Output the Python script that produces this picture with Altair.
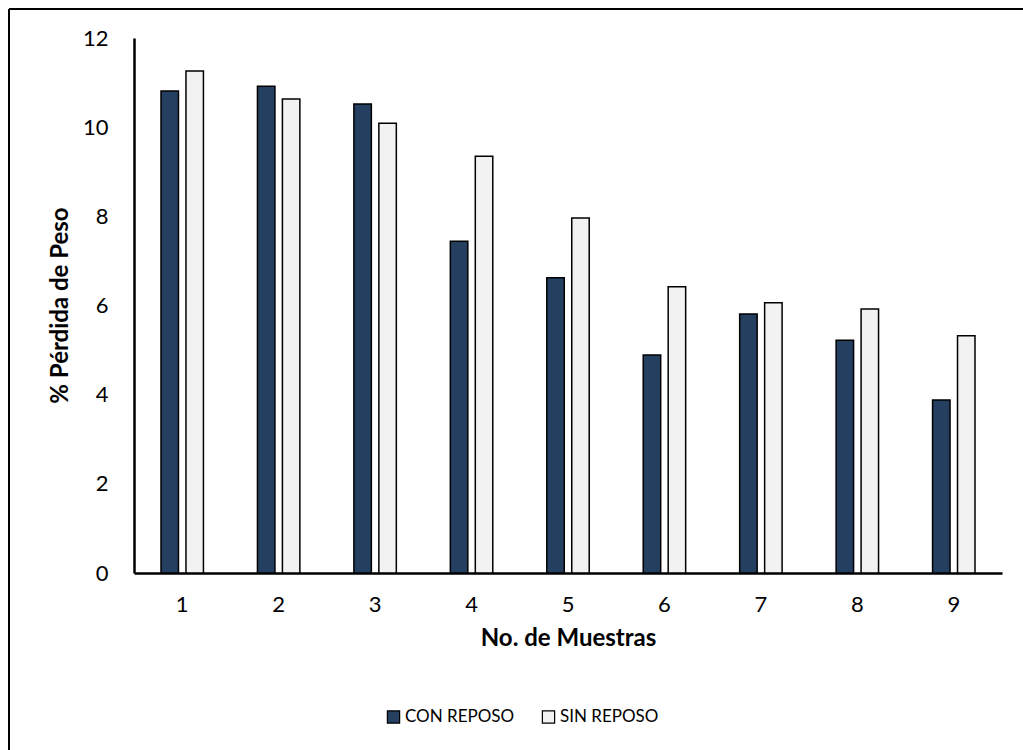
import altair as alt
import pandas as pd

# Weight loss per sample, with and without rest
muestras = ["1", "2", "3", "4", "5", "6", "7", "8", "9"]
con_reposo = [10.81, 10.92, 10.52, 7.44, 6.62, 4.89, 5.81, 5.22, 3.88]
sin_reposo = [11.26, 10.63, 10.09, 9.35, 7.96, 6.42, 6.06, 5.92, 5.32]
series = ["CON REPOSO", "SIN REPOSO"]
colores = ["#243F60", "#F2F2F2"]
y_ticks = [0, 2, 4, 6, 8, 10, 12]

rows = []
for i, m in enumerate(muestras):
    rows.append({"Muestra": m, "Serie": series[0], "Valor": con_reposo[i]})
    rows.append({"Muestra": m, "Serie": series[1], "Valor": sin_reposo[i]})
df = pd.DataFrame(rows)

FONT = "Lato"

bars = alt.Chart(df).mark_bar(stroke="black", strokeWidth=1.5).encode(
    x=alt.X(
        "Muestra:N",
        sort=muestras,
        scale=alt.Scale(paddingInner=0.56, paddingOuter=0.28),
        axis=alt.Axis(
            title="No. de Muestras",
            labelAngle=0,
            ticks=False,
            tickSize=0,
            grid=False,
            domainColor="black",
            domainWidth=2.5,
            labelFont=FONT,
            labelFontSize=22,
            labelColor="black",
            labelPadding=21,
            titleFont=FONT,
            titleFontSize=24,
            titleFontWeight="bold",
            titleColor="black",
            titleX=434,
            titleY=65,
            titleBaseline="middle",
            titleAlign="center",
        ),
    ),
    xOffset=alt.XOffset(
        "Serie:N", sort=series, scale=alt.Scale(paddingInner=0.3, paddingOuter=0)
    ),
    y=alt.Y(
        "Valor:Q",
        scale=alt.Scale(domain=[0, 12], nice=False),
        axis=alt.Axis(
            title="% Pérdida de Peso",
            values=y_ticks,
            ticks=False,
            tickSize=0,
            grid=False,
            domainColor="black",
            domainWidth=2.5,
            labelFont=FONT,
            labelFontSize=22,
            labelColor="black",
            labelPadding=26,
            titleFont=FONT,
            titleFontSize=24,
            titleFontWeight="bold",
            titleColor="black",
            titleX=-74,
            titleY=267,
            titleAngle=270,
            titleBaseline="middle",
            titleAlign="center",
        ),
    ),
    fill=alt.Fill(
        "Serie:N",
        sort=series,
        scale=alt.Scale(domain=series, range=colores),
        legend=alt.Legend(
            title=None,
            orient="none",
            direction="horizontal",
            legendX=251,
            legendY=670,
            symbolType="square",
            symbolSize=150,
            symbolStrokeColor="black",
            symbolStrokeWidth=1.2,
            labelFont=FONT,
            labelFontSize=17,
            labelColor="black",
            labelOffset=3,
            columnPadding=24,
        ),
    ),
)

# Outer frame (top and left edges)
one = pd.DataFrame({"k": [0]})
frame_top = alt.Chart(one).mark_rule(color="black", strokeWidth=2).encode(
    x=alt.value(-125), x2=alt.value(900), y=alt.value(-29)
)
frame_left = alt.Chart(one).mark_rule(color="black", strokeWidth=2).encode(
    x=alt.value(-125), y=alt.value(-29), y2=alt.value(720)
)

chart = (
    alt.layer(bars, frame_top, frame_left)
    .properties(
        width=868,
        height=535,
        autosize=alt.AutoSizeParams(type="none"),
        padding={"left": 134, "top": 38, "right": 21, "bottom": 177},
        background="white",
    )
    .configure_view(stroke=None)
)

chart.save("out.html", embed_options={"renderer": "svg", "actions": False})
